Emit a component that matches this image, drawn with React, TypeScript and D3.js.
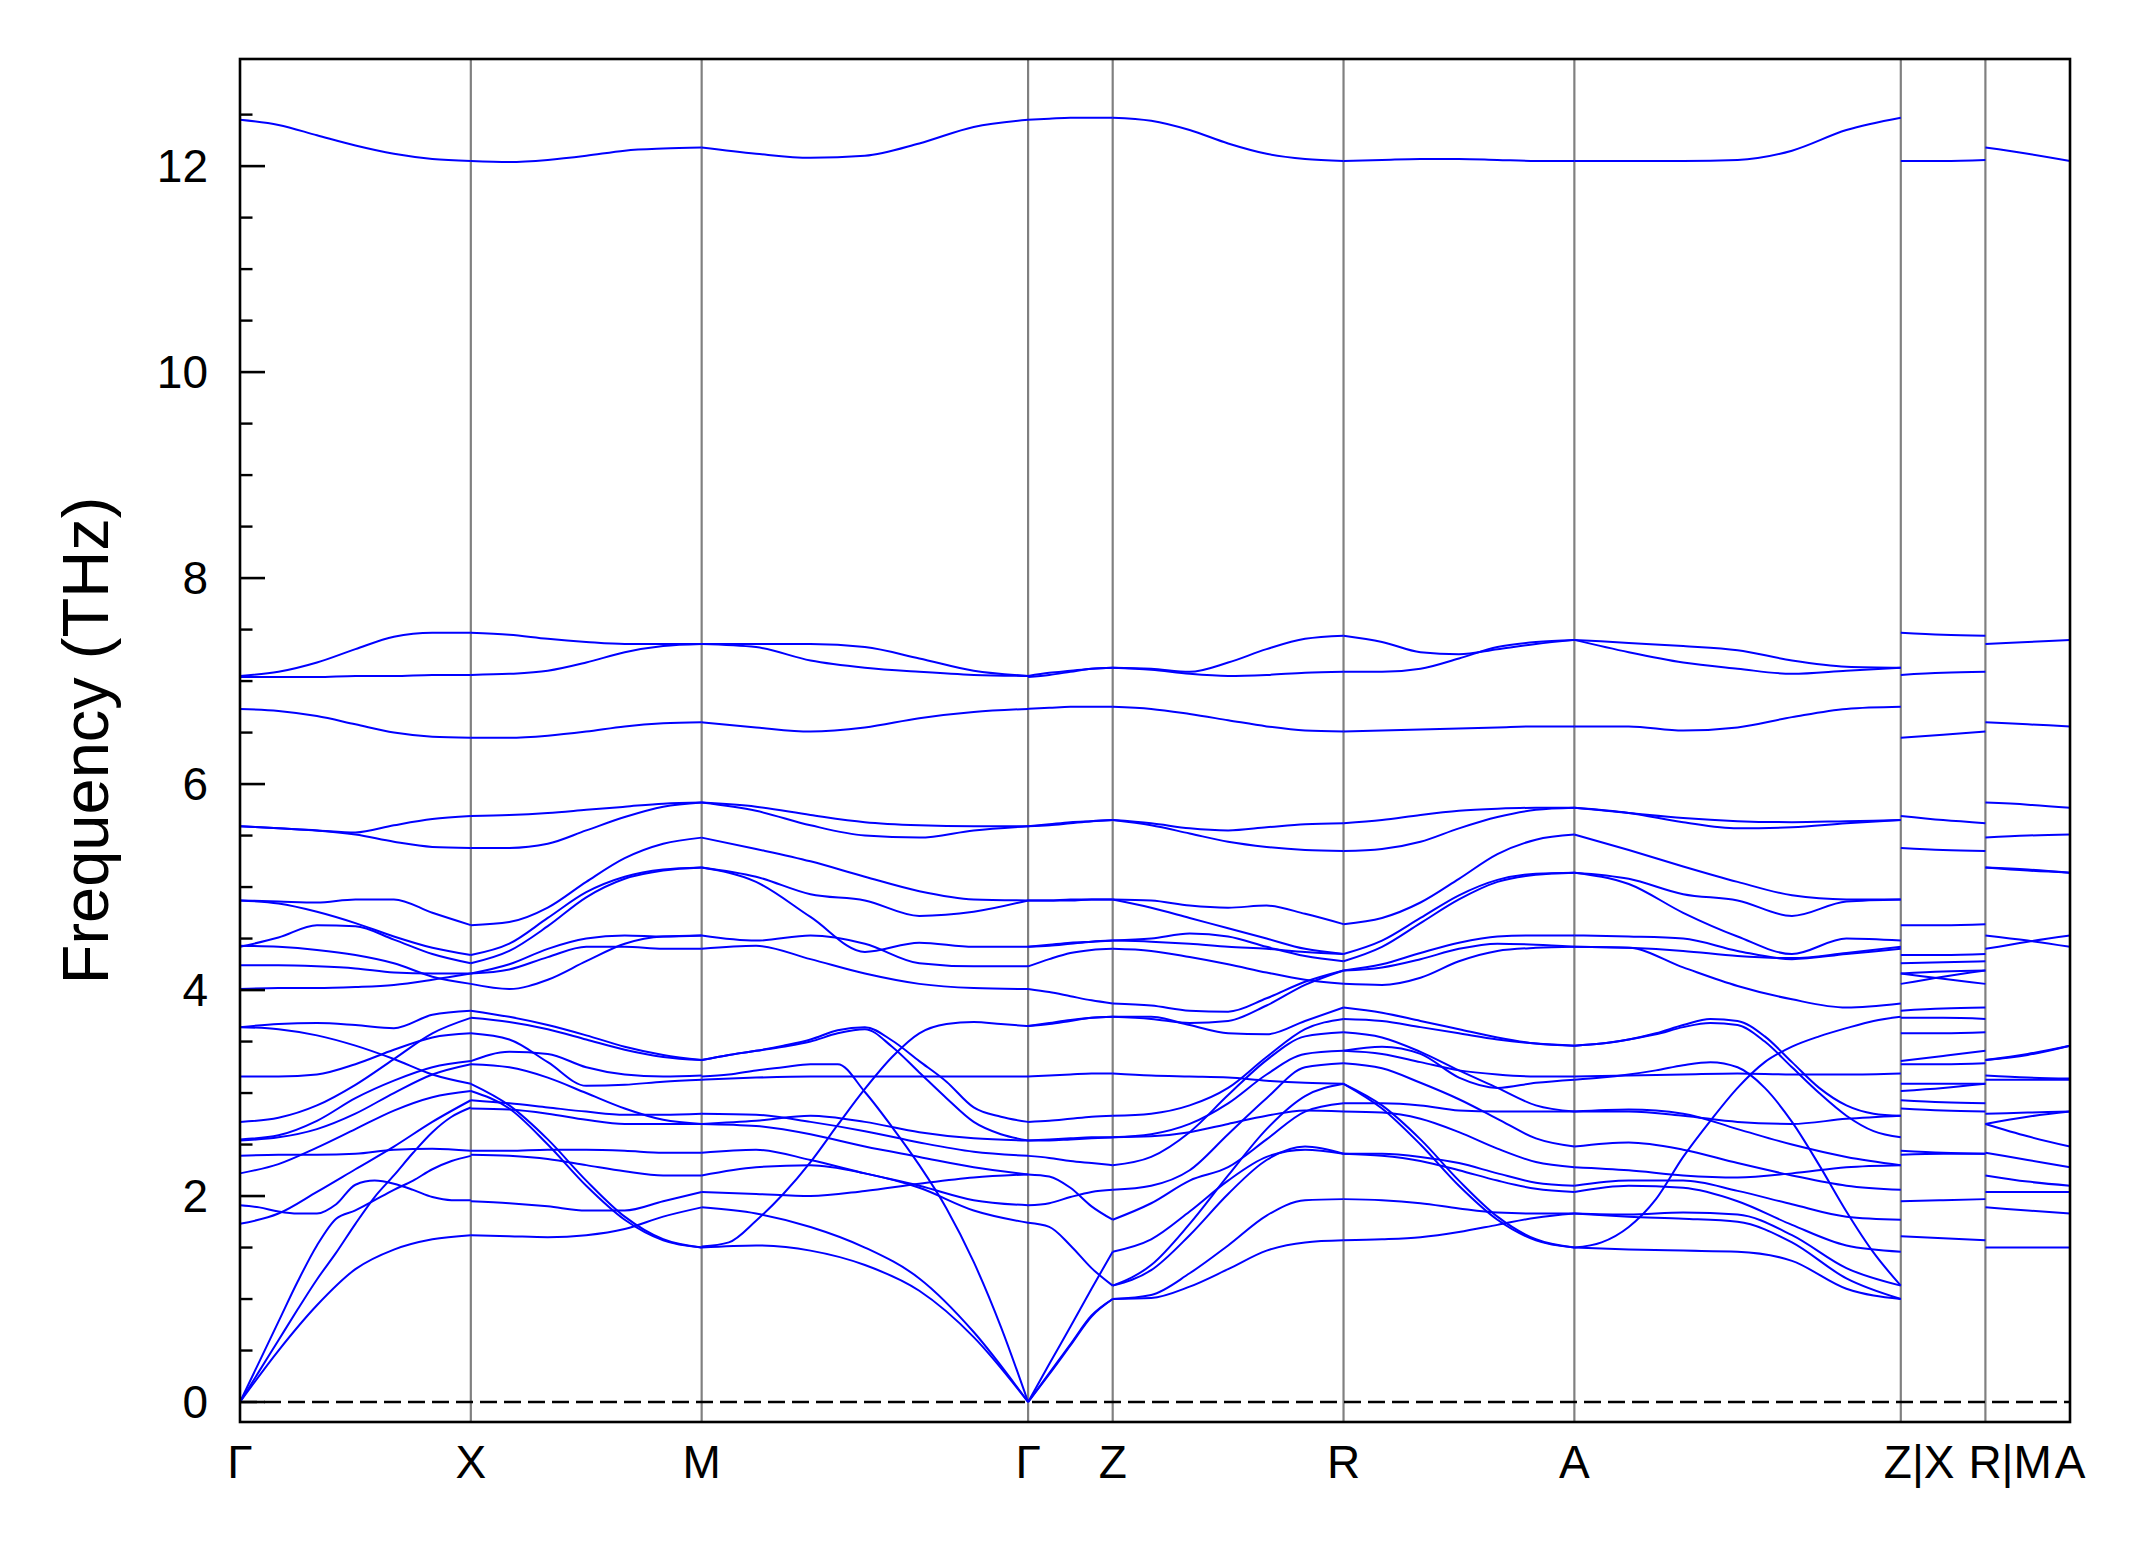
import React from 'react';
import * as d3 from 'd3';

// High-symmetry path labels and reciprocal-space segment lengths
const kLabels = ['Γ', 'X', 'M', 'Γ', 'Z', 'R', 'A', 'Z|X', 'R|M', 'A'];
const segLengths = [1, 1, 1.4142, 0.3665, 1, 1, 1.4142, 0.3665, 0.3665];
const yMajorTicks = [0, 2, 4, 6, 8, 10, 12];
const yMinorStep = 0.5;
const yDomain = [-0.194, 13.04];

// Each band: frequencies (THz) at evenly spaced points along the segment
const bandsGX = [
  [12.45, 12.40, 12.30, 12.20, 12.12, 12.07, 12.05],
  [7.05, 7.09, 7.18, 7.31, 7.43, 7.47, 7.47],
  [7.04, 7.04, 7.04, 7.05, 7.05, 7.06, 7.06],
  [6.73, 6.71, 6.66, 6.58, 6.50, 6.46, 6.45],
  [5.59, 5.57, 5.55, 5.53, 5.60, 5.66, 5.69],
  [5.59, 5.57, 5.55, 5.51, 5.44, 5.39, 5.38],
  [4.87, 4.86, 4.85, 4.88, 4.88, 4.75, 4.63],
  [4.87, 4.84, 4.76, 4.65, 4.52, 4.41, 4.34],
  [4.42, 4.51, 4.63, 4.62, 4.49, 4.35, 4.26],
  [4.43, 4.42, 4.39, 4.34, 4.26, 4.13, 4.06],
  [4.24, 4.24, 4.23, 4.21, 4.17, 4.16, 4.16],
  [4.01, 4.02, 4.02, 4.03, 4.05, 4.10, 4.16],
  [3.64, 3.67, 3.68, 3.66, 3.63, 3.76, 3.80],
  [3.64, 3.62, 3.56, 3.46, 3.33, 3.18, 3.09],
  [3.16, 3.16, 3.18, 3.28, 3.42, 3.54, 3.58],
  [2.72, 2.76, 2.88, 3.08, 3.33, 3.58, 3.73],
  [2.55, 2.59, 2.73, 2.95, 3.12, 3.25, 3.31],
  [2.54, 2.57, 2.65, 2.80, 3.00, 3.18, 3.28],
  [2.22, 2.31, 2.47, 2.65, 2.83, 2.96, 3.02],
  [1.73, 1.83, 2.04, 2.26, 2.48, 2.72, 2.93],
  [2.39, 2.40, 2.40, 2.41, 2.45, 2.46, 2.44],
  [1.91, 1.89, 1.85, 1.83, 1.83, 1.92, 2.11, 2.15, 2.12, 2.06, 1.99, 1.96, 1.96],
  [0, 0.39, 0.78, 1.17, 1.52, 1.78, 1.86, 1.96, 2.06, 2.15, 2.26, 2.34, 2.39],
  [0, 0.30, 0.60, 0.90, 1.19, 1.45, 1.73, 1.99, 2.20, 2.42, 2.62, 2.77, 2.86],
  [0, 0.50, 0.94, 1.29, 1.48, 1.58, 1.62],
];

const bandsXM = [
  [12.05, 12.04, 12.06, 12.10, 12.15, 12.17, 12.18],
  [7.47, 7.45, 7.41, 7.38, 7.36, 7.36, 7.36],
  [7.06, 7.07, 7.10, 7.18, 7.28, 7.34, 7.36],
  [6.45, 6.45, 6.47, 6.51, 6.56, 6.59, 6.60],
  [5.69, 5.70, 5.72, 5.75, 5.78, 5.81, 5.82],
  [5.38, 5.38, 5.42, 5.55, 5.68, 5.78, 5.82],
  [4.63, 4.66, 4.80, 5.05, 5.28, 5.42, 5.48],
  [4.34, 4.45, 4.70, 4.95, 5.10, 5.17, 5.19],
  [4.26, 4.38, 4.62, 4.90, 5.08, 5.16, 5.19],
  [4.16, 4.25, 4.40, 4.50, 4.53, 4.52, 4.53],
  [4.16, 4.20, 4.32, 4.42, 4.42, 4.40, 4.40],
  [4.06, 4.01, 4.10, 4.28, 4.45, 4.52, 4.53],
  [3.80, 3.74, 3.66, 3.56, 3.45, 3.37, 3.32],
  [3.73, 3.69, 3.62, 3.52, 3.42, 3.35, 3.32],
  [3.58, 3.52, 3.30, 3.07, 3.08, 3.11, 3.13],
  [3.31, 3.40, 3.38, 3.25, 3.18, 3.16, 3.17],
  [3.28, 3.25, 3.15, 3.00, 2.85, 2.74, 2.70],
  [3.09, 2.88, 2.55, 2.15, 1.80, 1.58, 1.50],
  [3.02, 2.85, 2.50, 2.10, 1.77, 1.57, 1.50],
  [2.93, 2.90, 2.86, 2.82, 2.79, 2.79, 2.80],
  [2.85, 2.84, 2.80, 2.74, 2.70, 2.70, 2.70],
  [2.44, 2.44, 2.45, 2.45, 2.44, 2.42, 2.42],
  [2.40, 2.39, 2.36, 2.30, 2.24, 2.20, 2.20],
  [1.95, 1.93, 1.90, 1.86, 1.86, 1.95, 2.04],
  [1.62, 1.61, 1.60, 1.62, 1.68, 1.80, 1.89],
];

const bandsMG = [
  [12.18, 12.12, 12.08, 12.10, 12.22, 12.38, 12.45],
  [7.36, 7.33, 7.20, 7.13, 7.09, 7.06, 7.05],
  [7.36, 7.36, 7.36, 7.33, 7.22, 7.10, 7.05],
  [6.60, 6.55, 6.51, 6.55, 6.64, 6.70, 6.73],
  [5.82, 5.78, 5.70, 5.63, 5.60, 5.59, 5.59],
  [5.82, 5.74, 5.60, 5.50, 5.48, 5.55, 5.59],
  [5.48, 5.37, 5.25, 5.10, 4.96, 4.88, 4.87],
  [5.19, 5.10, 4.93, 4.87, 4.72, 4.76, 4.87],
  [5.19, 5.05, 4.71, 4.37, 4.46, 4.42, 4.42],
  [4.53, 4.48, 4.53, 4.45, 4.26, 4.23, 4.23],
  [4.40, 4.43, 4.30, 4.16, 4.06, 4.02, 4.01],
  [3.32, 3.37, 3.41, 3.46, 3.52, 3.61, 3.64, 3.51, 3.31, 3.11, 2.86, 2.77, 2.72],
  [3.32, 3.37, 3.41, 3.45, 3.50, 3.58, 3.62, 3.45, 3.20, 2.95, 2.72, 2.60, 2.54],
  [3.13, 3.15, 3.16, 3.16, 3.16, 3.16, 3.16],
  [3.16, 3.18, 3.22, 3.25, 3.28, 3.28, 3.01, 2.67, 2.30, 1.88, 1.36, 0.73, 0],
  [1.51, 1.55, 1.76, 2.02, 2.33, 2.69, 3.04, 3.35, 3.58, 3.67, 3.69, 3.67, 3.65],
  [1.89, 1.83, 1.70, 1.50, 1.20, 0.68, 0],
  [1.50, 1.52, 1.47, 1.33, 1.08, 0.63, 0],
  [2.80, 2.79, 2.72, 2.63, 2.52, 2.43, 2.39],
  [2.70, 2.73, 2.78, 2.72, 2.62, 2.56, 2.54],
  [2.70, 2.68, 2.60, 2.48, 2.38, 2.28, 2.21],
  [2.42, 2.45, 2.35, 2.22, 2.10, 1.96, 1.91],
  [2.20, 2.28, 2.30, 2.22, 2.08, 1.86, 1.74],
  [2.04, 2.02, 2.00, 2.05, 2.12, 2.18, 2.21],
];

const bandsGZ = [
  [12.45, 12.46, 12.47, 12.47, 12.47],
  [7.05, 7.08, 7.10, 7.12, 7.13],
  [7.04, 7.06, 7.09, 7.12, 7.13],
  [6.73, 6.74, 6.75, 6.75, 6.75],
  [5.59, 5.61, 5.63, 5.64, 5.65],
  [5.59, 5.60, 5.62, 5.64, 5.65],
  [4.87, 4.87, 4.87, 4.88, 4.88],
  [4.87, 4.87, 4.88, 4.88, 4.88],
  [4.42, 4.44, 4.46, 4.47, 4.48],
  [4.42, 4.43, 4.45, 4.47, 4.48],
  [4.23, 4.30, 4.36, 4.39, 4.40],
  [4.01, 3.98, 3.94, 3.90, 3.87],
  [3.65, 3.68, 3.71, 3.73, 3.74],
  [3.65, 3.67, 3.70, 3.73, 3.74],
  [3.16, 3.17, 3.18, 3.19, 3.19],
  [2.72, 2.73, 2.75, 2.77, 2.78],
  [2.54, 2.55, 2.56, 2.57, 2.57],
  [2.54, 2.54, 2.55, 2.56, 2.57],
  [2.39, 2.37, 2.34, 2.32, 2.30],
  [2.21, 2.19, 2.08, 1.90, 1.77],
  [1.91, 1.93, 1.99, 2.04, 2.06],
  [1.74, 1.70, 1.52, 1.30, 1.13],
  [0, 0.37, 0.73, 1.10, 1.46],
  [0, 0.28, 0.56, 0.84, 1.00],
  [0, 0.27, 0.55, 0.83, 1.00],
];

const bandsZR = [
  [12.47, 12.44, 12.35, 12.22, 12.12, 12.07, 12.05],
  [7.13, 7.12, 7.09, 7.18, 7.31, 7.41, 7.44],
  [7.13, 7.11, 7.07, 7.05, 7.06, 7.08, 7.09],
  [6.75, 6.73, 6.68, 6.62, 6.56, 6.52, 6.51],
  [5.65, 5.62, 5.57, 5.55, 5.58, 5.61, 5.62],
  [5.65, 5.60, 5.52, 5.44, 5.39, 5.36, 5.35],
  [4.88, 4.87, 4.82, 4.80, 4.82, 4.74, 4.64],
  [4.88, 4.80, 4.70, 4.60, 4.50, 4.40, 4.35],
  [4.48, 4.50, 4.55, 4.52, 4.42, 4.33, 4.28],
  [4.48, 4.47, 4.45, 4.42, 4.40, 4.37, 4.35],
  [4.40, 4.38, 4.32, 4.25, 4.17, 4.10, 4.06],
  [3.87, 3.85, 3.80, 3.79, 3.92, 4.08, 4.19],
  [3.74, 3.72, 3.68, 3.70, 3.85, 4.05, 4.19],
  [3.74, 3.74, 3.66, 3.58, 3.57, 3.70, 3.83],
  [3.19, 3.17, 3.16, 3.15, 3.12, 3.10, 3.09],
  [2.78, 2.80, 2.88, 3.05, 3.35, 3.62, 3.72],
  [2.57, 2.60, 2.70, 2.90, 3.18, 3.38, 3.41],
  [2.57, 2.58, 2.62, 2.70, 2.78, 2.83, 2.82],
  [2.30, 2.38, 2.62, 2.98, 3.32, 3.55, 3.59],
  [2.06, 2.10, 2.25, 2.60, 2.95, 3.25, 3.29],
  [1.77, 1.93, 2.15, 2.28, 2.55, 2.82, 2.90],
  [1.46, 1.58, 1.85, 2.15, 2.38, 2.45, 2.41],
  [1.13, 1.28, 1.62, 2.02, 2.35, 2.48, 2.41],
  [1.13, 1.33, 1.73, 2.20, 2.65, 2.97, 3.09],
  [1.00, 1.04, 1.25, 1.52, 1.81, 1.96, 1.97],
  [1.00, 1.01, 1.12, 1.29, 1.47, 1.55, 1.57],
];

const bandsRA = [
  [12.05, 12.06, 12.07, 12.07, 12.06, 12.05, 12.05],
  [7.44, 7.38, 7.28, 7.26, 7.31, 7.36, 7.40],
  [7.09, 7.09, 7.12, 7.22, 7.33, 7.38, 7.40],
  [6.51, 6.52, 6.53, 6.54, 6.55, 6.56, 6.56],
  [5.62, 5.65, 5.70, 5.74, 5.76, 5.77, 5.77],
  [5.35, 5.37, 5.44, 5.57, 5.68, 5.75, 5.77],
  [4.64, 4.70, 4.85, 5.08, 5.32, 5.46, 5.51],
  [4.35, 4.48, 4.70, 4.92, 5.07, 5.13, 5.14],
  [4.28, 4.42, 4.65, 4.88, 5.05, 5.12, 5.14],
  [4.19, 4.25, 4.36, 4.46, 4.52, 4.53, 4.53],
  [4.19, 4.22, 4.30, 4.40, 4.45, 4.44, 4.42],
  [4.06, 4.05, 4.12, 4.28, 4.38, 4.41, 4.42],
  [3.83, 3.78, 3.70, 3.62, 3.54, 3.48, 3.46],
  [3.72, 3.70, 3.64, 3.58, 3.52, 3.48, 3.46],
  [3.59, 3.54, 3.40, 3.22, 3.05, 2.88, 2.82],
  [3.41, 3.45, 3.38, 3.15, 3.05, 3.10, 3.13],
  [3.41, 3.38, 3.30, 3.22, 3.18, 3.16, 3.16],
  [3.29, 3.24, 3.10, 2.94, 2.75, 2.56, 2.48],
  [3.09, 2.88, 2.55, 2.15, 1.80, 1.58, 1.50],
  [3.09, 2.85, 2.50, 2.10, 1.77, 1.57, 1.50],
  [2.90, 2.90, 2.88, 2.83, 2.82, 2.82, 2.82],
  [2.82, 2.81, 2.75, 2.62, 2.46, 2.33, 2.28],
  [2.41, 2.41, 2.38, 2.32, 2.22, 2.13, 2.10],
  [2.41, 2.39, 2.34, 2.25, 2.15, 2.07, 2.04],
  [1.97, 1.96, 1.93, 1.88, 1.84, 1.83, 1.83],
  [1.57, 1.58, 1.60, 1.65, 1.72, 1.79, 1.83],
];

const bandsAZ = [
  [12.05, 12.05, 12.05, 12.06, 12.15, 12.35, 12.47],
  [7.40, 7.37, 7.34, 7.30, 7.20, 7.14, 7.13],
  [7.40, 7.28, 7.18, 7.12, 7.07, 7.10, 7.13],
  [6.56, 6.56, 6.52, 6.55, 6.65, 6.73, 6.75],
  [5.77, 5.72, 5.63, 5.57, 5.58, 5.62, 5.65],
  [5.77, 5.72, 5.67, 5.64, 5.63, 5.64, 5.65],
  [5.51, 5.36, 5.20, 5.05, 4.92, 4.88, 4.88],
  [5.14, 5.08, 4.93, 4.87, 4.72, 4.86, 4.88],
  [5.14, 5.03, 4.75, 4.52, 4.35, 4.50, 4.48],
  [4.53, 4.52, 4.50, 4.38, 4.30, 4.35, 4.40],
  [4.42, 4.41, 4.38, 4.33, 4.31, 4.36, 4.42],
  [4.42, 4.41, 4.22, 4.04, 3.91, 3.83, 3.87],
  [3.46, 3.48, 3.52, 3.58, 3.66, 3.72, 3.70, 3.55, 3.30, 3.05, 2.88, 2.80, 2.78],
  [3.46, 3.48, 3.52, 3.57, 3.64, 3.68, 3.66, 3.50, 3.25, 3.00, 2.78, 2.63, 2.57],
  [3.16, 3.17, 3.18, 3.19, 3.18, 3.18, 3.19],
  [3.13, 3.15, 3.18, 3.22, 3.27, 3.30, 3.25, 3.05, 2.72, 2.30, 1.85, 1.45, 1.13],
  [1.50, 1.55, 1.70, 1.97, 2.38, 2.73, 3.05, 3.30, 3.45, 3.55, 3.63, 3.70, 3.74],
  [1.50, 1.48, 1.47, 1.46, 1.37, 1.10, 1.00],
  [1.83, 1.80, 1.78, 1.75, 1.55, 1.20, 1.00],
  [1.83, 1.82, 1.84, 1.82, 1.62, 1.30, 1.13],
  [2.04, 2.10, 2.08, 1.95, 1.72, 1.52, 1.46],
  [2.10, 2.15, 2.15, 2.05, 1.92, 1.80, 1.77],
  [2.28, 2.25, 2.20, 2.18, 2.22, 2.28, 2.30],
  [2.48, 2.52, 2.45, 2.32, 2.20, 2.10, 2.06],
  [2.82, 2.84, 2.80, 2.65, 2.50, 2.38, 2.30],
  [2.82, 2.82, 2.78, 2.72, 2.70, 2.75, 2.78],
];

const bandsXR = [
  [12.05, 12.05, 12.06],
  [7.47, 7.45, 7.44],
  [7.06, 7.08, 7.09],
  [6.45, 6.48, 6.51],
  [5.69, 5.65, 5.62],
  [5.38, 5.36, 5.35],
  [4.63, 4.63, 4.64],
  [4.34, 4.34, 4.35],
  [4.26, 4.27, 4.28],
  [4.16, 4.18, 4.19],
  [4.06, 4.13, 4.19],
  [4.16, 4.11, 4.06],
  [3.80, 3.82, 3.83],
  [3.73, 3.73, 3.72],
  [3.58, 3.58, 3.59],
  [3.31, 3.36, 3.41],
  [3.28, 3.28, 3.29],
  [3.09, 3.09, 3.09],
  [3.02, 3.05, 3.09],
  [2.93, 2.91, 2.90],
  [2.85, 2.83, 2.82],
  [2.44, 2.42, 2.41],
  [2.40, 2.41, 2.41],
  [1.95, 1.96, 1.97],
  [1.61, 1.59, 1.57],
];

const bandsMA = [
  [12.18, 12.12, 12.05],
  [7.36, 7.38, 7.40],
  [6.60, 6.58, 6.56],
  [5.82, 5.80, 5.77],
  [5.48, 5.50, 5.51],
  [5.19, 5.16, 5.14],
  [5.19, 5.17, 5.14],
  [4.53, 4.48, 4.42],
  [4.40, 4.47, 4.53],
  [3.32, 3.37, 3.46],
  [3.32, 3.38, 3.46],
  [3.17, 3.15, 3.14],
  [3.13, 3.13, 3.13],
  [2.80, 2.81, 2.82],
  [2.70, 2.77, 2.82],
  [2.70, 2.58, 2.48],
  [2.42, 2.35, 2.28],
  [2.20, 2.14, 2.10],
  [2.04, 2.04, 2.04],
  [1.89, 1.86, 1.83],
  [1.50, 1.50, 1.50],
];

const segmentBands = [bandsGX, bandsXM, bandsMG, bandsGZ, bandsZR, bandsRA, bandsAZ, bandsXR, bandsMA];

const FONT = "'Liberation Sans', Arial, Helvetica, sans-serif";

export default function App() {
  const W = 2145;
  const H = 1549;
  const left = 240;
  const right = 2070;
  const top = 59;
  const bottom = 1422;

  const cum: number[] = [0];
  segLengths.forEach((l) => cum.push(cum[cum.length - 1] + l));
  const total = cum[cum.length - 1];

  const x = d3.scaleLinear().domain([0, total]).range([left, right]);
  const y = d3.scaleLinear().domain(yDomain).range([bottom, top]);

  const line = d3
    .line<[number, number]>()
    .x((d) => x(d[0]))
    .y((d) => y(d[1]))
    .curve(d3.curveMonotoneX);

  const bandPaths: JSX.Element[] = [];
  segmentBands.forEach((bands, i) => {
    const x0 = cum[i];
    const len = segLengths[i];
    bands.forEach((vals, j) => {
      const pts: [number, number][] = vals.map((v, k) => [x0 + (len * k) / (vals.length - 1), v]);
      bandPaths.push(
        <path key={`b-${i}-${j}`} d={line(pts) || ''} fill="none" stroke="#0000ff" strokeWidth={2} />
      );
    });
  });

  const minorTicks = d3.range(0, 12.51, yMinorStep).filter((v) => !yMajorTicks.includes(v));

  return (
    <svg
      width={W}
      height={H}
      style={{ position: 'absolute', left: 0, top: 0, background: '#fff' }}
      xmlns="http://www.w3.org/2000/svg"
    >
      <rect x={0} y={0} width={W} height={H} fill="#ffffff" />
      {cum.slice(1, cum.length - 1).map((c, i) => (
        <line key={`v-${i}`} x1={x(c)} x2={x(c)} y1={top} y2={bottom} stroke="#808080" strokeWidth={2.2} />
      ))}
      <line x1={left} x2={right} y1={y(0)} y2={y(0)} stroke="#000" strokeWidth={2.6} strokeDasharray="17 7" />
      <g>{bandPaths}</g>
      {yMajorTicks.map((t) => (
        <line key={`mt-${t}`} x1={left} x2={left + 25} y1={y(t)} y2={y(t)} stroke="#000" strokeWidth={2.6} />
      ))}
      {minorTicks.map((t) => (
        <line key={`nt-${t}`} x1={left} x2={left + 12.5} y1={y(t)} y2={y(t)} stroke="#000" strokeWidth={2.4} />
      ))}
      <rect x={left} y={top} width={right - left} height={bottom - top} fill="none" stroke="#000" strokeWidth={2.6} />
      {yMajorTicks.map((t) => (
        <text
          key={`yl-${t}`}
          x={208}
          y={y(t)}
          textAnchor="end"
          dominantBaseline="central"
          fontFamily={FONT}
          fontSize={46}
          fill="#000"
        >
          {t}
        </text>
      ))}
      {kLabels.map((lab, i) => {
        const combined = lab.includes('|');
        return (
          <text
            key={`xl-${i}`}
            x={combined ? x(cum[i]) - 17 : x(cum[i])}
            y={1478}
            textAnchor={combined ? 'start' : 'middle'}
            fontFamily={FONT}
            fontSize={46}
            fill="#000"
          >
            {lab}
          </text>
        );
      })}
      <text
        transform={`translate(108, ${(top + bottom) / 2}) rotate(-90)`}
        textAnchor="middle"
        fontFamily={FONT}
        fontSize={65}
        fill="#000"
      >
        Frequency (THz)
      </text>
    </svg>
  );
}
